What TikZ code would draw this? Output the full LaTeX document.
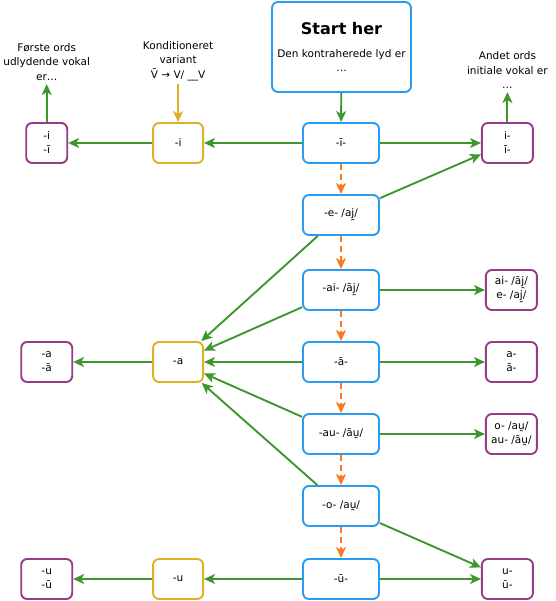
\documentclass[tikz,border=0pt]{standalone}
\usepackage{fontspec}
\setmainfont{DejaVu Sans}
\usepackage{xcolor}
\usepackage{tikz}
\usetikzlibrary{positioning}
\usetikzlibrary{arrows.meta}

\definecolor{boxblue}{RGB}{40,156,240}
\definecolor{boxpurple}{RGB}{150,60,135}
\definecolor{boxgold}{RGB}{222,176,36}
\definecolor{arrowgreen}{RGB}{62,150,46}
\definecolor{arroworange}{RGB}{250,120,30}

\tikzset{
    box/.style={draw, rounded corners=6pt, line width=1.9pt, align=center,
        font=\fontsize{10.5}{14}\selectfont, inner sep=2pt},
    soundbox/.style={box, draw=boxblue, minimum width=76pt, minimum height=40pt},
    wordbox/.style={box, draw=boxpurple, minimum width=51pt, minimum height=40pt},
    variantbox/.style={box, draw=boxgold, minimum width=50pt, minimum height=40pt},
    caption/.style={align=center, font=\fontsize{10.5}{14.5}\selectfont},
    garrow/.style={draw=arrowgreen, line width=1.9pt,
        -{Stealth[length=11pt, width=10pt, inset=3pt]}},
    yarrow/.style={garrow, draw=boxgold},
    oarrow/.style={draw=arroworange, line width=1.9pt, dash pattern=on 6pt off 4pt,
        -{Stealth[length=11pt, width=10pt, inset=3pt]}}
}

\begin{document}
\begin{tikzpicture}[x=1pt, y=-1pt]

                \useasboundingbox (0, 0) rectangle (555, 601);

                \def\dl{98pt}
                \def\dr{105pt}

                % main column: the contracted sound
                \node (Start) [box, draw=boxblue, minimum width=139pt, minimum height=90pt]
                    at (341.5, 47)
                {{\fontsize{16}{20}\selectfont\bfseries Start her}\\[9pt]
                 Den kontraherede lyd er\\…};
                \node (I) [soundbox] at (341, 143) {-ī-};
                \node (E) [soundbox] at (341, 215) {-e- /aj̯/};
                \node (AI) [soundbox] at (341, 290) {-ai- /āj̯/};
                \node (A) [soundbox] at (341, 362) {-ā-};
                \node (AU) [soundbox] at (341, 434) {-au- /āu̯/};
                \node (O) [soundbox] at (341, 506) {-o- /au̯/};
                \node (U) [soundbox] at (341, 579) {-ū-};

                % conditioned variants
                \node (Yi) [variantbox, left=\dl of I] {-i};
                \node (Ya) [variantbox, left=\dl of A] {-a};
                \node (Yu) [variantbox, left=\dl of U] {-u};

                % first word, final vowel
                \node (Pi) [wordbox, minimum width=41pt, left=84pt of Yi] {-i\\-ī};
                \node (Pa) [wordbox, left=79pt of Ya] {-a\\-ā};
                \node (Pu) [wordbox, left=79pt of Yu] {-u\\-ū};

                % second word, initial vowel
                \node (Ri) [wordbox, right=101pt of I] {i-\\ī-};
                \node (Rai) [wordbox, right=\dr of AI] {ai- /āj̯/\\e- /aj̯/};
                \node (Ra) [wordbox, right=\dr of A] {a-\\ā-};
                \node (Rau) [wordbox, right=\dr of AU] {o- /au̯/\\au- /āu̯/};
                \node (Ru) [wordbox, right=101pt of U] {u-\\ū-};

                % captions
                \node (First) [caption, above=38pt of Pi]
                {Første ords\\udlydende vokal\\er…};
                \node (Cond) [caption, above=38pt of Yi]
                {Konditioneret\\variant\\V̄ → V/ \_\_V};
                \node (Second) [caption, above=30pt of Ri]
                {Andet ords\\initiale vokal er\\…};

                \begin{scope}
                    \draw[garrow] (Start) -- (I);
                    \draw[garrow] (I) -- (Yi);
                    \draw[garrow] (Yi) -- (Pi);
                    \draw[garrow] (I) -- (Ri);
                    \draw[garrow] (E) -- (Ri);
                    \draw[garrow] (E) -- (Ya);
                    \draw[garrow] (AI) -- (Ya);
                    \draw[garrow] (A) -- (Ya);
                    \draw[garrow] (AU) -- (Ya);
                    \draw[garrow] (O) -- (Ya);
                    \draw[garrow] (Ya) -- (Pa);
                    \draw[garrow] (AI) -- (Rai);
                    \draw[garrow] (A) -- (Ra);
                    \draw[garrow] (AU) -- (Rau);
                    \draw[garrow] (O) -- (Ru);
                    \draw[garrow] (U) -- (Ru);
                    \draw[garrow] (U) -- (Yu);
                    \draw[garrow] (Yu) -- (Pu);
                    \draw[garrow] (Pi) -- (First);
                    \draw[garrow] (Ri) -- (Second);
                    \draw[yarrow] (Cond) -- (Yi);
                \end{scope}

                \begin{scope}
                    \draw[oarrow] (I) -- (E);
                    \draw[oarrow] (E) -- (AI);
                    \draw[oarrow] (AI) -- (A);
                    \draw[oarrow] (A) -- (AU);
                    \draw[oarrow] (AU) -- (O);
                    \draw[oarrow] (O) -- (U);
                \end{scope}

\end{tikzpicture}
\end{document}
